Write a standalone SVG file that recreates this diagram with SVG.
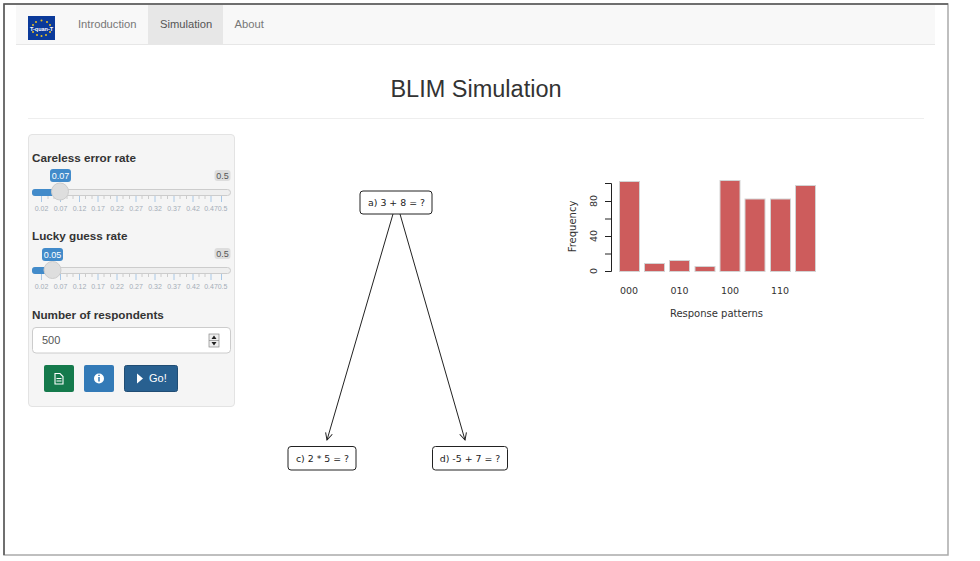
<svg xmlns="http://www.w3.org/2000/svg" width="980" height="561" viewBox="0 0 980 561">
<style>
text{font-family:"Liberation Sans",Arial,sans-serif}
.nav{font-size:11.2px;fill:#777}
.lab{font-size:11.7px;font-weight:bold;fill:#333}
.tl{font-size:7px;fill:#a4adb8;text-anchor:middle}
.node{fill:#fff;stroke:#222;stroke-width:1}
.nt{font-family:"DejaVu Sans",sans-serif;font-size:9.4px;fill:#222;text-anchor:middle}
.edge{stroke:#222;stroke-width:1;fill:none}
.ax{font-family:"DejaVu Sans",sans-serif;font-size:9.500px;fill:#333;text-anchor:middle}
.bar{fill:#cd5c5c;stroke:#d3d3d3;stroke-width:1}
.axl{stroke:#222;stroke-width:1;fill:none}
.track{fill:#eee;stroke:#ccc;stroke-width:1}
.fill{fill:#428bca}
.handle{fill:#dedede;stroke:#ccc;stroke-width:1}
.mj{stroke:#a9c8e6;stroke-width:1}
.mn{stroke:#ccc;stroke-width:1}
.badge{font-size:9px;fill:#fff;text-anchor:middle}
.max{font-size:9px;fill:#555;text-anchor:middle}
.star{fill:#e8c020}
</style>
<defs>
<marker id="arr" markerWidth="10" markerHeight="10" refX="8" refY="4" orient="auto" markerUnits="userSpaceOnUse"><path d="M1,0.5 L8,4 L1,7.5" fill="none" stroke="#222" stroke-width="1"/></marker>
<g id="ticks">
<path class="mj" d="M41.500 0v6M60.500 0v6M79.500 0v6M98 0v6M117 0v6M136 0v6M155 0v6M174 0v6M193 0v6M211 0v6M221.500 0v6"/>
<path class="mn" d="M48 0v3M54 0v3M67 0v3M73 0v3M85.500 0v3M92 0v3M104 0v3M110.500 0v3M123 0v3M129.500 0v3M142 0v3M148.500 0v3M161 0v3M167.500 0v3M180 0v3M186.500 0v3M199 0v3M205 0v3"/>
<g><text class="tl" x="41.500" y="15">0.02</text><text class="tl" x="60.500" y="15">0.07</text><text class="tl" x="79.500" y="15">0.12</text><text class="tl" x="98" y="15">0.17</text><text class="tl" x="117" y="15">0.22</text><text class="tl" x="136" y="15">0.27</text><text class="tl" x="155" y="15">0.32</text><text class="tl" x="174" y="15">0.37</text><text class="tl" x="193" y="15">0.42</text><text class="tl" x="211" y="15">0.47</text><text class="tl" x="222.500" y="15">0.5</text></g>
</g>
</defs>
<rect width="980" height="561" fill="#fff"/>
<rect id="frame" x="4" y="4" width="944" height="551" fill="#fff" stroke="#aaa" stroke-width="1.5"/>
<path d="M4 555V4H948" fill="none" stroke="#555" stroke-width="1.5"/>
<g id="navbar">
<rect x="16" y="5" width="919" height="39" fill="#f8f8f8"/>
<path d="M16 44.500H935" stroke="#e7e7e7"/>
<rect x="148" y="5" width="75" height="39" fill="#e7e7e7"/>
<rect x="28" y="16" width="27" height="24" fill="#0b3a9a"/>
<g class="star"><circle cx="41.500" cy="20.500" r="1"/><circle cx="36" cy="22" r="1"/><circle cx="47" cy="22" r="1"/><circle cx="33" cy="25" r="1"/><circle cx="50" cy="25" r="1"/><circle cx="33" cy="32" r="1"/><circle cx="50" cy="32" r="1"/><circle cx="37" cy="35" r="1"/><circle cx="46" cy="35" r="1"/><circle cx="41.500" cy="36" r="1"/></g>
<text x="41.500" y="30.500" font-size="5.500" font-weight="bold" fill="#fff" text-anchor="middle">T-quan-T</text>
<text class="nav" x="78" y="28">Introduction</text>
<text class="nav" x="160" y="28" style="fill:#555">Simulation</text>
<text class="nav" x="234.500" y="28">About</text>
</g>
<text id="title" x="476" y="97" font-size="23.500" fill="#333" text-anchor="middle">BLIM Simulation</text>
<path d="M28 118.500H924" stroke="#eee"/>
<g id="sidebar">
<rect x="28.500" y="134.500" width="206" height="272" rx="3.500" fill="#f5f5f5" stroke="#e3e3e3"/>
</g>
<g id="slider-careless">
<text class="lab" x="32" y="162">Careless error rate</text>
<rect x="50" y="169" width="21" height="13" rx="3" fill="#428bca"/>
<text class="badge" x="60.500" y="178.500">0.07</text>
<rect x="214.500" y="170" width="16" height="11" rx="3" fill="#ddd"/>
<text class="max" x="222.500" y="178.500">0.5</text>
<rect class="track" x="32.500" y="189.500" width="198" height="6" rx="3"/>
<rect class="fill" x="32" y="189" width="28" height="7" rx="3"/>
<use href="#ticks" y="196"/>
<circle class="handle" cx="60" cy="191.500" r="8.500"/>
</g>
<g id="slider-lucky">
<text class="lab" x="32" y="240">Lucky guess rate</text>
<rect x="42" y="248" width="21" height="13" rx="3" fill="#428bca"/>
<text class="badge" x="52.500" y="257.500">0.05</text>
<rect x="214.500" y="248" width="16" height="11" rx="3" fill="#ddd"/>
<text class="max" x="222.500" y="257">0.5</text>
<rect class="track" x="32.500" y="267.500" width="198" height="6" rx="3"/>
<rect class="fill" x="32" y="267" width="20" height="7" rx="3"/>
<use href="#ticks" y="274"/>
<circle class="handle" cx="52.500" cy="270" r="8.500"/>
</g>
<g id="respondents">
<text class="lab" x="32" y="319">Number of respondents</text>
<rect x="32.500" y="327.500" width="198" height="25.500" rx="3.500" fill="#fff" stroke="#ccc"/>
<text x="42" y="344" font-size="11px" fill="#555">500</text>
<rect x="209" y="334" width="10" height="13" fill="#eee" stroke="#888" stroke-width=".7"/>
<path d="M209 340.500h10" stroke="#888" stroke-width=".7"/>
<path d="M214 335.500l2.500 3.500h-5zM214 345.500l2.500-3.500h-5z" fill="#222"/>
</g>
<g id="btn-report">
<rect x="44" y="365" width="30" height="27" rx="2" fill="#157a4c"/>
<path d="M55 373.500h5l3 3v7.500h-8zM56.500 378.500h5M56.500 381h5" fill="none" stroke="#fff" stroke-width="1.100"/>
</g>
<g id="btn-info">
<rect x="84" y="365" width="30" height="27" rx="2" fill="#337ab7"/>
<circle cx="99" cy="378.500" r="5" fill="#fff"/>
<path d="M99 377v4.500M99 374.800v1.100" stroke="#337ab7" stroke-width="1.500"/>
</g>
<g id="btn-go">
<rect x="124.500" y="365.500" width="53" height="26" rx="2" fill="#286090" stroke="#204d74"/>
<path d="M137 373.500l6 5-6 5z" fill="#fff"/>
<text x="149" y="382" font-size="11px" fill="#fff">Go!</text>
</g>
<g id="connectors">
<path class="edge" marker-end="url(#arr)" d="M393 214L327 440"/>
<path class="edge" marker-end="url(#arr)" d="M400 214L465 440"/>
</g>
<g id="node-a">
<rect class="node" x="360" y="191" width="72" height="23" rx="3"/>
<text class="nt" x="396.500" y="206">a) 3 + 8 = ?</text>
</g>
<g id="node-c">
<rect class="node" x="288" y="446.500" width="68" height="23.500" rx="3"/>
<text class="nt" x="322.500" y="462">c) 2 * 5 = ?</text>
</g>
<g id="node-d">
<rect class="node" x="432.500" y="446.500" width="75" height="23.500" rx="3"/>
<text class="nt" x="470" y="462">d) -5 + 7 = ?</text>
</g>
<g id="chart">
<rect class="bar" x="619.500" y="181.500" width="20" height="90"/>
<rect class="bar" x="644.500" y="263.500" width="20" height="8"/>
<rect class="bar" x="669.500" y="260.500" width="20" height="11"/>
<rect class="bar" x="695" y="266.500" width="20" height="5"/>
<rect class="bar" x="720" y="180.500" width="20" height="91"/>
<rect class="bar" x="745" y="199" width="20" height="72.500"/>
<rect class="bar" x="770.500" y="199" width="20" height="72.500"/>
<rect class="bar" x="795.500" y="185.500" width="20" height="86"/>
<path class="axl" d="M611.500 183.500V271.500M605 183.500h6.500M605 201.500h6.500M605 219h6.500M605 236.500h6.500M605 254h6.500M605 271.500h6.500"/>
<text class="ax" transform="translate(597,271) rotate(-90)">0</text>
<text class="ax" transform="translate(597,236) rotate(-90)">40</text>
<text class="ax" transform="translate(597,201) rotate(-90)">80</text>
<text class="ax" x="629" y="294">000</text>
<text class="ax" x="679.500" y="294">010</text>
<text class="ax" x="730" y="294">100</text>
<text class="ax" x="780" y="294">110</text>
<text class="ax" transform="translate(576,226.500) rotate(-90)" style="font-size:10px">Frequency</text>
<text class="ax" x="716.500" y="316.500" style="font-size:10px">Response patterns</text>
</g>
</svg>
